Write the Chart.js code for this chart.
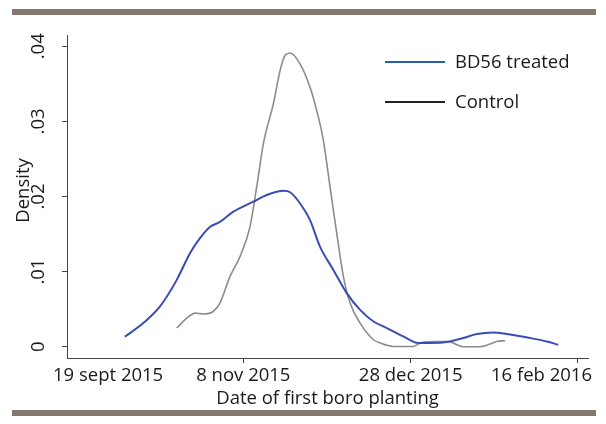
<!DOCTYPE html>
<html>
<head>
<meta charset="utf-8">
<script src="https://cdn.jsdelivr.net/npm/chart.js@4"></script>
<style>
  html, body { margin: 0; padding: 0; background: #fff; }
  #wrap { position: relative; width: 606px; height: 424px; }
</style>
</head>
<body>
<div id="wrap"><canvas id="density"></canvas></div>
<script>
// days counted from 19 sept 2015
const xTicks = [0, 50, 100, 150];
const xTickLabels = ["19 sept 2015", "8 nov 2015", "28 dec 2015", "16 feb 2016"];
const yTicks = [0, 0.01, 0.02, 0.03, 0.04];
const yTickLabels = ["0", ".01", ".02", ".03", ".04"];

const treatedDays = [14.6, 20.1, 25.1, 30.1, 34.1, 37.1, 40.0, 43.0, 47.0, 53.0, 57.0, 62.0, 64.0, 66.9, 69.9, 72.9, 76.9, 80.9, 84.9, 88.9, 92.9, 97.8, 102.3, 105.8, 111.8, 115.7, 119.8, 124.7, 128.7, 135.7, 140.7, 144.1];
const treatedDensity = [0.00133, 0.00315, 0.00536, 0.0089, 0.01249, 0.01449, 0.01595, 0.01661, 0.01798, 0.01931, 0.0202, 0.02077, 0.02056, 0.0191, 0.01688, 0.01333, 0.01023, 0.00714, 0.0049, 0.00336, 0.00249, 0.00137, 0.00049, 0.00049, 0.0007, 0.00116, 0.00169, 0.0019, 0.00169, 0.00116, 0.0007, 0.00027];

const controlDays = [30.1, 33.1, 35.6, 38.0, 41.0, 43.0, 46.0, 49.0, 52.0, 54.0, 56.0, 59.0, 61.0, 62.5, 64.0, 66.9, 69.9, 71.9, 73.9, 75.9, 77.9, 79.9, 81.9, 84.9, 88.9, 90.9, 94.8, 100.8, 103.3, 107.8, 111.3, 113.8, 115.7, 120.7, 123.7, 125.7, 128.2];
const controlDensity = [0.00249, 0.00381, 0.00448, 0.00435, 0.00469, 0.00581, 0.00934, 0.012, 0.01599, 0.0213, 0.02707, 0.03239, 0.03681, 0.0388, 0.03911, 0.0377, 0.03459, 0.0315, 0.02751, 0.0213, 0.01511, 0.00934, 0.00581, 0.00315, 0.00093, 0.00049, 0.00004, 0.00004, 0.00057, 0.0007, 0.0007, 0.00027, 0, 0, 0.00036, 0.0007, 0.0008];

const FONT = '"Open Sans", "Noto Sans", sans-serif';
const TEXT = "#1a1a1a";

const toPoints = (xs, ys) => xs.map((x, i) => ({ x, y: ys[i] }));

// frame bars, tick labels, axis titles and legend
const decorations = {
  id: "decorations",
  afterDraw(chart) {
    const ctx = chart.ctx;
    const area = chart.chartArea;
    const xs = chart.scales.x;
    const ys = chart.scales.y;
    ctx.save();

    ctx.fillStyle = "#85796d";
    ctx.fillRect(12, 9, 584, 6);
    ctx.fillRect(12, 410, 584, 6);

    ctx.fillStyle = TEXT;
    ctx.font = "18.5px " + FONT;
    ctx.textBaseline = "alphabetic";

    // y tick labels, turned to read upwards
    yTicks.forEach((v, i) => {
      ctx.save();
      ctx.translate(44, ys.getPixelForValue(v));
      ctx.rotate(-Math.PI / 2);
      ctx.textAlign = "center";
      ctx.fillText(yTickLabels[i], 0, 0);
      ctx.restore();
    });

    ctx.save();
    ctx.translate(29, (area.top + area.bottom) / 2 - 6);
    ctx.rotate(-Math.PI / 2);
    ctx.textAlign = "center";
    ctx.fillText("Density", 0, 0);
    ctx.restore();

    // x tick labels, kept inside the axis ends
    ctx.textAlign = "left";
    xTicks.forEach((v, i) => {
      const w = ctx.measureText(xTickLabels[i]).width;
      let left = xs.getPixelForValue(v) - w / 2;
      left = Math.max(left, area.left - 14);
      left = Math.min(left, area.right + 4 - w);
      ctx.fillText(xTickLabels[i], left, 381);
    });

    ctx.textAlign = "center";
    ctx.fillText("Date of first boro planting", (area.left + area.right) / 2, 404);

    // legend
    const legendRows = [
      { label: chart.data.datasets[0].label, color: "#2262b4", y: 62 },
      { label: chart.data.datasets[1].label, color: "#222222", y: 102 }
    ];
    ctx.textAlign = "left";
    ctx.lineWidth = 2;
    legendRows.forEach(r => {
      ctx.strokeStyle = r.color;
      ctx.beginPath();
      ctx.moveTo(385, r.y);
      ctx.lineTo(445, r.y);
      ctx.stroke();
      ctx.fillText(r.label, 455, r.y + 6);
    });

    ctx.restore();
  }
};

new Chart(document.getElementById("density"), {
  type: "line",
  data: {
    datasets: [
      {
        label: "BD56 treated",
        data: toPoints(treatedDays, treatedDensity),
        borderColor: "#3a4db4",
        borderWidth: 2,
        pointRadius: 0,
        cubicInterpolationMode: "monotone",
        fill: false
      },
      {
        label: "Control",
        data: toPoints(controlDays, controlDensity),
        borderColor: "#8c8c8c",
        borderWidth: 1.6,
        pointRadius: 0,
        cubicInterpolationMode: "monotone",
        fill: false
      }
    ]
  },
  options: {
    responsive: true,
    maintainAspectRatio: false,
    animation: false,
    layout: { padding: { left: 62, right: 18, top: 35, bottom: 61 } },
    plugins: {
      legend: { display: false },
      tooltip: { enabled: false }
    },
    scales: {
      x: {
        type: "linear",
        min: -2.7,
        max: 153,
        afterBuildTicks: s => { s.ticks = xTicks.map(v => ({ value: v })); },
        ticks: { display: false },
        grid: {
          drawOnChartArea: false,
          tickLength: 5,
          color: c => (c.tick && c.tick.value === 0 ? "rgba(0,0,0,0)" : "#444")
        },
        border: { color: "#444", width: 1 }
      },
      y: {
        min: -0.0015,
        max: 0.0415,
        afterBuildTicks: s => { s.ticks = yTicks.map(v => ({ value: v })); },
        ticks: { display: false },
        grid: { drawOnChartArea: false, tickLength: 5, color: "#444" },
        border: { color: "#444", width: 1 }
      }
    }
  },
  plugins: [decorations]
});
</script>
</body>
</html>
